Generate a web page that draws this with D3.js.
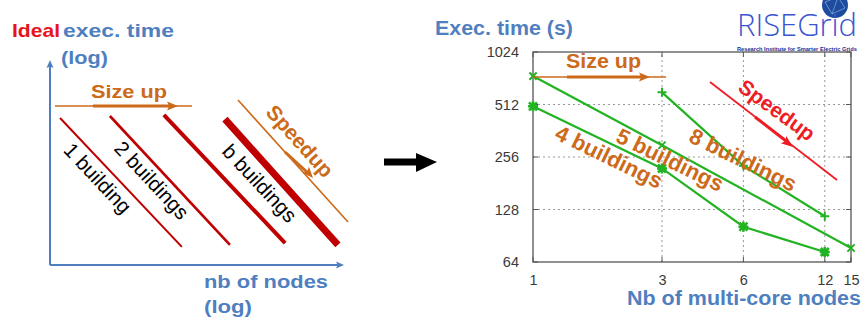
<!DOCTYPE html>
<html><head><meta charset="utf-8">
<script src="https://cdn.jsdelivr.net/npm/d3@7"></script>
<style>
html,body{margin:0;padding:0;background:#fff;}
svg{display:block;font-family:"Liberation Sans",Arial,sans-serif;}
</style></head><body>
<svg id="c" width="861" height="318"></svg>
<script>
// ---------- data ----------
const xTicks = [1, 3, 6, 12, 15];
const yTicks = [64, 128, 256, 512, 1024];
const seriesNames = ["4 buildings", "5 buildings", "8 buildings"];
const nodes4 = [1, 3, 6, 12];
const time4  = [500, 220, 102, 73];
const nodes5 = [1, 3, 15];
const time5  = [745, 299, 77];
const nodes8 = [3, 6, 12];
const time8  = [601, 228, 117];

// schematic "ideal" lines (conceptual 0-100 units)
const idealLabels = ["1 building", "2 buildings", "", "b buildings"];
const idealX0 = [3.4, 20.3, 38.6, 59.3];
const idealX1 = [44.7, 61.0, 79.7, 97.6];
const idealY0 = [72.4, 73.4, 73.9, 71.9];
const idealY1 = [8.9, 9.9, 10.8, 9.9];

const svg = d3.select("#c");
const BLUE = "#4f7fbf", ORANGE = "#cc6a1a", DRED = "#c00000", GREEN = "#22b322";

function arrowHead(g, tipX, tipY, angleDeg, len, wid, color) {
  g.append("path")
    .attr("d", `M0,0 L${-len},${-wid/2} L${-len*0.8},0 L${-len},${wid/2} Z`)
    .attr("transform", `translate(${tipX},${tipY}) rotate(${angleDeg})`)
    .attr("fill", color);
}
function txt(g, x, y, s, o) {
  const t = g.append("text").attr("x", x).attr("y", y).text(s)
    .attr("font-size", o.size).attr("font-weight", o.weight || "normal")
    .attr("fill", o.color || "#000");
  if (o.len) t.attr("textLength", o.len).attr("lengthAdjust", "spacingAndGlyphs");
  if (o.anchor) t.attr("text-anchor", o.anchor);
  if (o.rot !== undefined) t.attr("transform", `rotate(${o.rot},${x},${y})`).attr("dominant-baseline", "central");
  return t;
}
function fitText(t, width) {
  const fs = +t.attr("font-size");
  const w = t.node().getComputedTextLength();
  if (w > 0) t.attr("font-size", fs * width / w);
}

// ---------- left schematic ----------
const L = svg.append("g");
const lx = d3.scaleLinear().domain([0, 100]).range([50, 345]);
const ly = d3.scaleLinear().domain([0, 100]).range([265, 62]);
// axes
L.append("line").attr("x1", lx(0)).attr("y1", ly(0)).attr("x2", lx(0)).attr("y2", ly(0) - 199)
  .attr("stroke", BLUE).attr("stroke-width", 2);
arrowHead(L, lx(0), ly(0) - 205, -90, 8, 7, BLUE);
L.append("line").attr("x1", lx(0)).attr("y1", ly(0)).attr("x2", lx(0) + 288).attr("y2", ly(0))
  .attr("stroke", BLUE).attr("stroke-width", 2);
arrowHead(L, lx(0) + 294, ly(0), 0, 8, 7, BLUE);

const idealW = [2, 2.6, 4, 7];
idealX0.forEach((d, i) => {
  L.append("line").attr("x1", lx(d)).attr("y1", ly(idealY0[i]))
    .attr("x2", lx(idealX1[i])).attr("y2", ly(idealY1[i]))
    .attr("stroke", DRED).attr("stroke-width", idealW[i]);
});
const idealTextPos = [[98, 178], [152, 180], null, [260, 183]];
idealLabels.forEach((s, i) => {
  if (!s) return;
  txt(L, idealTextPos[i][0], idealTextPos[i][1], s, {size: 20.5, anchor: "middle", rot: 47});
});

// titles
txt(L, 12, 37, "Ideal", {size: 19, weight: "bold", color: "#e8141c", len: 48});
txt(L, 63, 37, "exec. time", {size: 19, weight: "bold", color: BLUE, len: 111});
txt(L, 61, 64, "(log)", {size: 19, weight: "bold", color: BLUE, len: 47});
txt(L, 204, 288, "nb of nodes", {size: 19, weight: "bold", color: BLUE, len: 124});
txt(L, 204, 313, "(log)", {size: 19, weight: "bold", color: BLUE, len: 48});

// size up (left)
L.append("line").attr("x1", 55).attr("y1", 106).attr("x2", 192).attr("y2", 106)
  .attr("stroke", ORANGE).attr("stroke-width", 1.6);
L.append("line").attr("x1", 93).attr("y1", 106).attr("x2", 170).attr("y2", 106)
  .attr("stroke", ORANGE).attr("stroke-width", 3);
arrowHead(L, 178, 106, 0, 11, 9, ORANGE);
txt(L, 91, 98, "Size up", {size: 19, weight: "bold", color: ORANGE, len: 76});

// speedup (left)
L.append("line").attr("x1", 238).attr("y1", 100).attr("x2", 348).attr("y2", 222)
  .attr("stroke", ORANGE).attr("stroke-width", 1.6);
L.append("line").attr("x1", 285).attr("y1", 152).attr("x2", 308).attr("y2", 173)
  .attr("stroke", ORANGE).attr("stroke-width", 3);
arrowHead(L, 313, 178, 48, 11, 9, ORANGE);
txt(L, 300, 141, "Speedup", {size: 21, weight: "bold", color: ORANGE, anchor: "middle", rot: 48});

// big black arrow
svg.append("rect").attr("x", 384).attr("y", 158.5).attr("width", 34).attr("height", 7).attr("fill", "#000");
svg.append("path").attr("d", "M416,153 L437,162 L416,172 Z").attr("fill", "#000");

// ---------- right chart ----------
const R = svg.append("g");
const x = d3.scaleLog().base(2).domain([1, 15]).range([533, 851]);
const y = d3.scaleLog().base(2).domain([64, 1024]).range([262, 52]);

// grid
R.selectAll(".gy").data(yTicks.slice(1, -1)).join("line")
  .attr("x1", x(1)).attr("x2", x(15)).attr("y1", d => y(d)).attr("y2", d => y(d))
  .attr("stroke", "#999").attr("stroke-width", 1).attr("stroke-dasharray", "2,3");
R.selectAll(".gx").data(xTicks.slice(1, -1)).join("line")
  .attr("y1", y(64)).attr("y2", y(1024)).attr("x1", d => x(d)).attr("x2", d => x(d))
  .attr("stroke", "#999").attr("stroke-width", 1).attr("stroke-dasharray", "2,3");

// inward ticks
const tickLen = 5;
yTicks.forEach(d => {
  R.append("line").attr("x1", x(1)).attr("x2", x(1) + tickLen).attr("y1", y(d)).attr("y2", y(d)).attr("stroke", "#555");
  R.append("line").attr("x1", x(15)).attr("x2", x(15) - tickLen).attr("y1", y(d)).attr("y2", y(d)).attr("stroke", "#555");
});
xTicks.forEach(d => {
  R.append("line").attr("x1", x(d)).attr("x2", x(d)).attr("y1", y(64)).attr("y2", y(64) - tickLen).attr("stroke", "#555");
  R.append("line").attr("x1", x(d)).attr("x2", x(d)).attr("y1", y(1024)).attr("y2", y(1024) + tickLen).attr("stroke", "#555");
});
// frame
R.append("rect").attr("x", x(1)).attr("y", y(1024)).attr("width", x(15) - x(1)).attr("height", y(64) - y(1024))
  .attr("fill", "none").attr("stroke", "#555").attr("stroke-width", 1.3);

// axis labels via d3 axes
const ax = R.append("g").attr("transform", `translate(0,${y(64)})`)
  .call(d3.axisBottom(x).tickValues(xTicks).tickFormat(d3.format("d")).tickSize(0).tickPadding(12.5));
const ay = R.append("g").attr("transform", `translate(${x(1)},0)`)
  .call(d3.axisLeft(y).tickValues(yTicks).tickFormat(d3.format("d")).tickSize(0).tickPadding(14));
[ax, ay].forEach(a => {
  a.select(".domain").remove();
  a.selectAll("text").attr("font-size", 14.5).attr("fill", "#3a3a3a").attr("font-family", '"Liberation Sans",Arial,sans-serif');
});

// series
const seriesNodes = [nodes4, nodes5, nodes8];
const seriesTimes = [time4, time5, time8];
const markerType = ["star", "x", "plus"];
const line = d3.line().x(d => x(d[0])).y(d => y(d[1]));
function marker(g, cx, cy, type) {
  const s = type === "star" ? 5 : 4.5;
  const sw = type === "star" ? 2.6 : 2;
  const p = [];
  if (type === "plus" || type === "star") p.push(`M${cx - s},${cy}H${cx + s}M${cx},${cy - s}V${cy + s}`);
  if (type === "x" || type === "star") p.push(`M${cx - s*0.8},${cy - s*0.8}L${cx + s*0.8},${cy + s*0.8}M${cx - s*0.8},${cy + s*0.8}L${cx + s*0.8},${cy - s*0.8}`);
  g.append("path").attr("d", p.join("")).attr("stroke", GREEN).attr("stroke-width", sw).attr("fill", "none");
}
seriesNodes.forEach((ns, i) => {
  const pts = ns.map((n, j) => [n, seriesTimes[i][j]]);
  R.append("path").attr("d", line(pts)).attr("fill", "none").attr("stroke", GREEN).attr("stroke-width", 2.2);
  pts.forEach(p => marker(R, x(p[0]), y(p[1]), markerType[i]));
});

// series labels
const labelPos = [[609, 157], [670, 160], [743, 160]];
seriesNames.forEach((s, i) => {
  txt(R, labelPos[i][0], labelPos[i][1], s, {size: 22, weight: "bold", color: ORANGE, anchor: "middle", rot: 26});
});

// size up (right)
R.append("line").attr("x1", x(1)).attr("y1", 77).attr("x2", 666).attr("y2", 77)
  .attr("stroke", ORANGE).attr("stroke-width", 1.6);
R.append("line").attr("x1", 567).attr("y1", 77).attr("x2", 642).attr("y2", 77)
  .attr("stroke", ORANGE).attr("stroke-width", 3);
arrowHead(R, 650, 77, 0, 11, 9, ORANGE);
txt(R, 566, 68, "Size up", {size: 21, weight: "bold", color: ORANGE, len: 75});

// speedup (right)
const RED = "#ee1c25";
R.append("line").attr("x1", 710).attr("y1", 82).attr("x2", 837).attr("y2", 180)
  .attr("stroke", RED).attr("stroke-width", 1.8);
R.append("line").attr("x1", 755).attr("y1", 117).attr("x2", 786).attr("y2", 141)
  .attr("stroke", RED).attr("stroke-width", 3);
arrowHead(R, 793, 147, 37.7, 12, 9, RED);
txt(R, 777, 110, "Speedup", {size: 21, weight: "bold", color: RED, anchor: "middle", rot: 36});

// titles
txt(R, 435, 35, "Exec. time (s)", {size: 20, weight: "bold", color: BLUE, len: 138});
txt(R, 627, 305, "Nb of multi-core nodes", {size: 20, weight: "bold", color: BLUE, len: 234});

// logo
const G = svg.append("g");
G.append("circle").attr("cx", 835).attr("cy", 5).attr("r", 13).attr("fill", "#1d4c9e");
G.append("path").attr("d", "M825,2 L838,-3 L845,8 L832,14 Z M838,-3 L832,14").attr("stroke", "#9cc0ef")
  .attr("stroke-width", 0.6).attr("fill", "none");
const logoT = txt(G, 737, 36, "RISEGrid", {size: 30, color: "#3b55d0"})
  .attr("font-family", '"Open Sans",sans-serif').attr("font-weight", 300);
fitText(logoT, 120);
const subT = txt(G, 737, 50.5, "Research Institute for Smarter Electric Grids", {size: 6, weight: "bold", color: "#1c2d8f"});
fitText(subT, 120);
</script>
</body></html>
